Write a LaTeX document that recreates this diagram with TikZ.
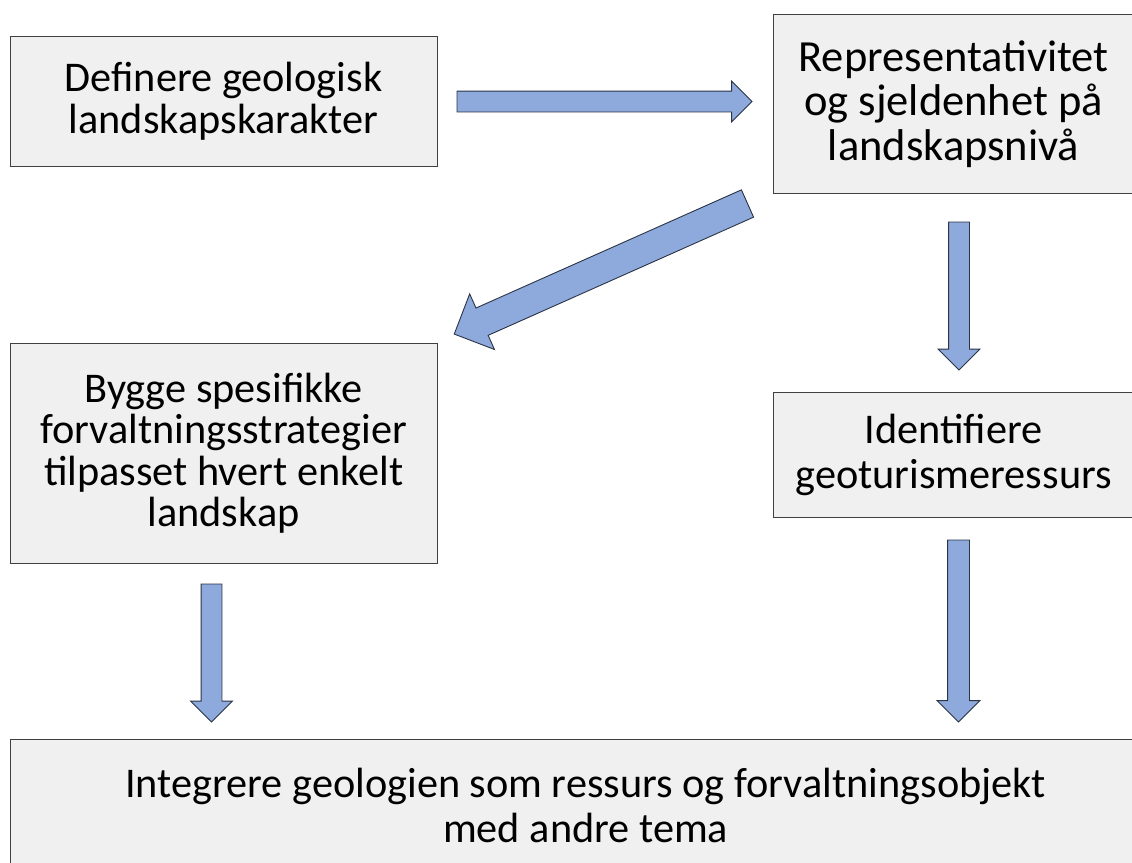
\documentclass[tikz,border=0pt]{standalone}
\usepackage{fontspec}
\setmainfont{Carlito}
\usetikzlibrary{shapes.arrows}
\definecolor{boxfill}{HTML}{F0F0F0}
\definecolor{boxline}{HTML}{404040}
\definecolor{arrowfill}{HTML}{8EA9DB}
\definecolor{arrowline}{HTML}{2A3445}

\begin{document}
\begin{tikzpicture}[x=1pt,y=-1pt,
  stepbox/.style={draw=boxline, line width=1.2pt, fill=boxfill, inner sep=0pt,
    align=center, anchor=north west},
  tight/.style={font=\fontsize{42.3}{41.5}\selectfont},
  loose/.style={font=\fontsize{42.3}{45}\selectfont},
  large/.style={font=\fontsize{44.5}{44.5}\selectfont},
  blockarrow/.style={single arrow, draw=arrowline, line width=0.9pt, fill=arrowfill,
    inner xsep=0pt, outer sep=0pt, single arrow tip angle=90, anchor=tail}]

\useasboundingbox (0,0) rectangle (1132,862);

% process steps
\node[stepbox, tight, minimum width=427pt, minimum height=129.5pt] (define) at (9.5,36)
  {Definere geologisk\\landskapskarakter};
\node[stepbox, large, minimum width=360pt, minimum height=179pt] (repr) at (773,14)
  {Representativitet\\og sjeldenhet på\\landskapsnivå};
\node[stepbox, tight, minimum width=427pt, minimum height=220pt] (build) at (9.5,342.5)
  {Bygge spesifikke\\forvaltningsstrategier\\tilpasset hvert enkelt\\landskap};
\node[stepbox, loose, minimum width=360pt, minimum height=125pt] (ident) at (773,392)
  {Identifiere\\geoturismeressurs};
\node[stepbox, loose, minimum width=1151pt, minimum height=132pt] (integ) at (9.5,739)
  {Integrere geologien som ressurs og forvaltningsobjekt\\med andre tema};

% block arrows between the steps, placed by their tails (shaft half width = inner ysep)
\node[blockarrow, minimum height=295pt, inner ysep=10pt, single arrow head extend=10pt]
  (a1) at (457,101.5) {};
\node[blockarrow, minimum height=321pt, inner ysep=14.5pt, single arrow head extend=15.5pt,
  rotate=204] (a2) at (747.5,203.5) {};
\node[blockarrow, minimum height=148pt, inner ysep=10pt, single arrow head extend=10.5pt,
  rotate=-90] (a3) at (959,222) {};
\node[blockarrow, minimum height=182pt, inner ysep=10.5pt, single arrow head extend=10.5pt,
  rotate=-90] (a4) at (958.5,540) {};
\node[blockarrow, minimum height=138pt, inner ysep=10pt, single arrow head extend=10.5pt,
  rotate=-90] (a5) at (211.5,584) {};
\end{tikzpicture}
\end{document}
